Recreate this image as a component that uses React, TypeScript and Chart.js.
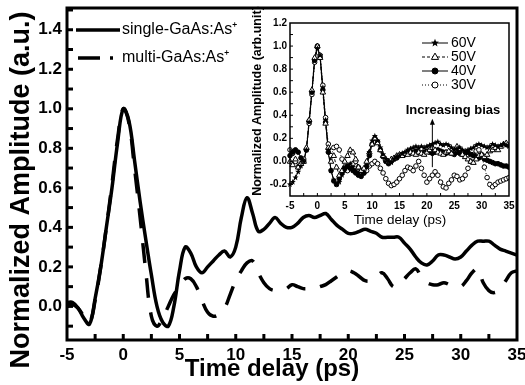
import React, { useEffect, useRef } from 'react';
import { Chart, registerables } from 'chart.js';

Chart.register(...registerables);

// ---------- data ----------
const timePs = [
  -5, -4.5, -4, -3.5, -3, -2.5, -2, -1.5, -1, -0.5, 0, 0.5, 1, 1.5, 2, 2.5, 3, 3.5, 4, 4.5,
  5, 5.5, 6, 6.5, 7, 7.5, 8, 8.5, 9, 9.5, 10, 10.5, 11, 11.5, 12, 12.5, 13, 13.5, 14, 14.5,
  15, 15.5, 16, 16.5, 17, 17.5, 18, 18.5, 19, 19.5, 20, 20.5, 21, 21.5, 22, 22.5, 23, 23.5, 24, 24.5,
  25, 25.5, 26, 26.5, 27, 27.5, 28, 28.5, 29, 29.5, 30, 30.5, 31, 31.5, 32, 32.5, 33, 33.5, 34, 34.5, 35,
];

const singleGaAs = [
  0.02, 0.02, -0.01, -0.06, -0.09, 0.04, 0.2, 0.4, 0.6, 0.83, 1.0, 0.94, 0.74, 0.53, 0.34, 0.16, 0.0, -0.08, -0.1, 0.0,
  0.18, 0.3, 0.27, 0.2, 0.17, 0.2, 0.23, 0.26, 0.28, 0.25, 0.3, 0.45, 0.55, 0.47, 0.38, 0.39, 0.42, 0.45, 0.42, 0.4,
  0.4, 0.42, 0.45, 0.46, 0.45, 0.46, 0.47, 0.44, 0.41, 0.39, 0.37, 0.37, 0.38, 0.39, 0.38, 0.37, 0.35, 0.35, 0.35, 0.35,
  0.32, 0.29, 0.25, 0.22, 0.21, 0.23, 0.26, 0.26, 0.25, 0.24, 0.25, 0.28, 0.31, 0.33, 0.33, 0.33, 0.31, 0.29, 0.28, 0.27, 0.26,
];

const multiGaAs = [
  0.0, 0.01, -0.01, -0.05, -0.08, 0.03, 0.2, 0.4, 0.62, 0.85, 1.0, 0.93, 0.7, 0.45, 0.18, -0.05, -0.1, -0.06, 0.0, 0.06,
  0.1, 0.14, 0.14, 0.1, 0.03, -0.03, -0.05, -0.04, -0.01, 0.06, 0.13, 0.18, 0.22, 0.23, 0.17, 0.12, 0.09, 0.08, 0.08, 0.09,
  0.11, 0.1, 0.09, 0.09, 0.09, 0.1, 0.11, 0.13, 0.15, 0.17, 0.18, 0.17, 0.15, 0.13, 0.13, 0.15, 0.17, 0.14, 0.1, 0.11,
  0.14, 0.17, 0.19, 0.15, 0.12, 0.11, 0.11, 0.12, 0.11, 0.1, 0.1, 0.13, 0.17, 0.19, 0.12, 0.08, 0.07, 0.09, 0.13, 0.17, 0.18,
];

const bias60V = [
  -0.2, -0.18, -0.14, -0.09, -0.04, 0.0, 0.1, 0.34, 0.6, 0.87, 0.98, 0.92, 0.64, 0.36, 0.1, -0.08, -0.16, -0.2, -0.18, -0.12,
  -0.08, -0.05, -0.02, -0.05, -0.08, -0.1, -0.12, -0.1, -0.05, 0.08, 0.18, 0.22, 0.18, 0.12, 0.06, 0.02, 0.0, -0.01, 0.02, 0.04,
  0.05, 0.07, 0.08, 0.1, 0.11, 0.12, 0.13, 0.12, 0.13, 0.12, 0.13, 0.14, 0.15, 0.16, 0.17, 0.15, 0.14, 0.15, 0.14, 0.12,
  0.1, 0.11, 0.12, 0.1, 0.09, 0.1, 0.11, 0.12, 0.14, 0.15, 0.14, 0.13, 0.12, 0.13, 0.15, 0.14, 0.13, 0.14, 0.15, 0.14, 0.13,
];

const bias50V = [
  0.0, -0.03, 0.02, -0.05, -0.02, 0.0, 0.12, 0.36, 0.62, 0.9, 1.0, 0.9, 0.6, 0.33, 0.12, 0.0, 0.05, -0.05, -0.12, -0.08,
  0.0, 0.05, 0.1, 0.08, 0.02, -0.05, -0.08, -0.06, 0.0, 0.08, 0.15, 0.2, 0.16, 0.1, 0.05, 0.02, 0.0, 0.02, 0.03, 0.05,
  0.06, 0.05, 0.07, 0.06, 0.08, 0.07, 0.06, 0.08, 0.07, 0.06, 0.08, 0.1, 0.12, 0.1, 0.08, 0.07, 0.06, 0.08, 0.09, 0.07,
  0.1, 0.13, 0.11, 0.06, 0.04, 0.02, 0.0, -0.01, 0.02, 0.05, 0.06, 0.04, 0.06, 0.09, 0.1, 0.12, 0.1, 0.13, 0.15, 0.16, 0.14,
];

const bias40V = [
  0.05, 0.08, 0.1, 0.08, 0.03, 0.0, 0.1, 0.35, 0.6, 0.88, 1.0, 0.9, 0.62, 0.34, 0.08, -0.08, -0.17, -0.2, -0.15, -0.1,
  -0.06, -0.04, -0.06, -0.08, -0.1, -0.12, -0.13, -0.1, -0.04, 0.05, 0.15, 0.2, 0.17, 0.1, 0.04, 0.0, -0.02, 0.0, 0.02, 0.03,
  0.05, 0.06, 0.06, 0.08, 0.07, 0.08, 0.09, 0.08, 0.07, 0.08, 0.09, 0.08, 0.07, 0.08, 0.1, 0.09, 0.08, 0.07, 0.08, 0.07,
  0.06, 0.08, 0.07, 0.06, 0.07, 0.08, 0.06, 0.05, 0.04, 0.03, 0.04, 0.02, 0.01, 0.0, -0.01, -0.02, -0.02, -0.03, -0.04, -0.04, -0.05,
];

const bias30V = [
  0.1, 0.07, 0.0, -0.05, -0.02, 0.02, 0.1, 0.33, 0.58, 0.86, 0.99, 0.92, 0.66, 0.38, 0.15, 0.05, 0.12, 0.13, 0.1, 0.02,
  -0.05, -0.08, -0.05, -0.02, 0.0, -0.05, -0.1, -0.1, -0.08, -0.04, -0.02, 0.0, -0.02, -0.06, -0.1, -0.15, -0.19, -0.21, -0.2, -0.18,
  -0.15, -0.12, -0.08, -0.05, -0.06, -0.08, -0.04, 0.0, -0.06, -0.12, -0.18, -0.15, -0.12, -0.09, -0.12, -0.18, -0.22, -0.23, -0.19, -0.16,
  -0.12, -0.13, -0.16, -0.15, -0.12, -0.06, 0.0, 0.06, 0.09, 0.1, 0.06, -0.05, -0.14, -0.2, -0.22, -0.2, -0.18, -0.17, -0.16, -0.15, -0.14,
];

const mainXTicks = [-5, 0, 5, 10, 15, 20, 25, 30, 35];
const mainYTicks = [0.0, 0.2, 0.4, 0.6, 0.8, 1.0, 1.2, 1.4];
const insetXTicks = [-5, 0, 5, 10, 15, 20, 25, 30, 35];
const insetYTicks = [-0.2, 0.0, 0.2, 0.4, 0.6, 0.8, 1.0, 1.2];

const mainLegend = ['single-GaAs:As\u207A', 'multi-GaAs:As\u207A'];
const insetLegend = ['60V', '50V', '40V', '30V'];
const arrowAt = { t: 21, from: -0.05, to: 0.37 };

const FONT = '"Liberation Sans", Arial, sans-serif';

const toXY = (arr: number[]) => timePs.map((t, i) => ({ x: t, y: arr[i] }));

function drawMarker(ctx: CanvasRenderingContext2D, style: string, x: number, y: number, r: number) {
  ctx.save();
  ctx.setLineDash([]);
  ctx.lineWidth = 1;
  ctx.strokeStyle = '#000';
  if (style === 'star') {
    ctx.fillStyle = '#000';
    ctx.beginPath();
    for (let k = 0; k < 10; k++) {
      const a = -Math.PI / 2 + (k * Math.PI) / 5;
      const rr = k % 2 === 0 ? r * 1.4 : r * 0.6;
      const px = x + rr * Math.cos(a);
      const py = y + rr * Math.sin(a);
      if (k === 0) ctx.moveTo(px, py);
      else ctx.lineTo(px, py);
    }
    ctx.closePath();
    ctx.fill();
  } else if (style === 'triangle') {
    ctx.fillStyle = '#fff';
    ctx.beginPath();
    ctx.moveTo(x, y - r * 1.3);
    ctx.lineTo(x + r * 1.2, y + r * 0.8);
    ctx.lineTo(x - r * 1.2, y + r * 0.8);
    ctx.closePath();
    ctx.fill();
    ctx.stroke();
  } else {
    ctx.fillStyle = style === 'filled' ? '#000' : '#fff';
    ctx.beginPath();
    ctx.arc(x, y, r, 0, Math.PI * 2);
    ctx.fill();
    ctx.stroke();
  }
  ctx.restore();
}

const mainDecor = {
  id: 'mainDecor',
  afterDraw(chart: any) {
    const { ctx, chartArea } = chart;
    const xs = chart.scales.x;
    const ys = chart.scales.y;
    ctx.save();
    ctx.strokeStyle = '#000';
    ctx.fillStyle = '#000';
    // inward ticks
    ctx.lineWidth = 3;
    ctx.lineCap = 'butt';
    for (let t = -2.5; t < 35; t += 2.5) {
      const px = xs.getPixelForValue(t);
      ctx.beginPath();
      ctx.moveTo(px, chartArea.bottom);
      ctx.lineTo(px, chartArea.bottom - 6);
      ctx.stroke();
    }
    for (let k = -1; k <= 15; k++) {
      const py = ys.getPixelForValue(k / 10);
      ctx.beginPath();
      ctx.moveTo(chartArea.left, py);
      ctx.lineTo(chartArea.left + 6, py);
      ctx.stroke();
    }
    // frame
    ctx.lineWidth = 3;
    ctx.strokeRect(chartArea.left, chartArea.top, chartArea.right - chartArea.left, chartArea.bottom - chartArea.top);

    // axis titles
    ctx.font = `bold 27px ${FONT}`;
    ctx.textAlign = 'center';
    ctx.textBaseline = 'middle';
    ctx.save();
    ctx.translate(22, 190);
    ctx.rotate(-Math.PI / 2);
    ctx.fillText('Normalized Amplitude (a.u.)', 0, 0);
    ctx.restore();
    ctx.font = `bold 24px ${FONT}`;
    ctx.fillText('Time delay (ps)', 272, 369);

    // legend
    ctx.lineWidth = 3.5;
    ctx.beginPath();
    ctx.moveTo(76, 30);
    ctx.lineTo(120, 30);
    ctx.stroke();
    ctx.setLineDash([22, 10]);
    ctx.beginPath();
    ctx.moveTo(78, 58);
    ctx.lineTo(113, 58);
    ctx.stroke();
    ctx.setLineDash([]);
    ctx.font = `16px ${FONT}`;
    ctx.textAlign = 'left';
    ctx.fillText(mainLegend[0], 122, 30);
    ctx.fillText(mainLegend[1], 122, 58);
    ctx.restore();
  },
};

const insetStyles = ['star', 'triangle', 'filled', 'open'];
const insetDashes = [[], [3, 2], [], [1, 2]];

const insetDecor = {
  id: 'insetDecor',
  afterDraw(chart: any) {
    const { ctx, chartArea } = chart;
    const xs = chart.scales.x;
    const ys = chart.scales.y;
    ctx.save();
    ctx.strokeStyle = '#000';
    ctx.fillStyle = '#000';
    ctx.lineWidth = 1;
    for (let t = -2.5; t < 35; t += 2.5) {
      const px = xs.getPixelForValue(t);
      ctx.beginPath();
      ctx.moveTo(px, chartArea.bottom);
      ctx.lineTo(px, chartArea.bottom - 3);
      ctx.stroke();
    }
    for (let k = -2; k <= 11; k++) {
      const py = ys.getPixelForValue(k / 10);
      ctx.beginPath();
      ctx.moveTo(chartArea.left, py);
      ctx.lineTo(chartArea.left + 3, py);
      ctx.stroke();
    }
    ctx.lineWidth = 1.5;
    ctx.strokeRect(chartArea.left, chartArea.top, chartArea.right - chartArea.left, chartArea.bottom - chartArea.top);

    // titles
    ctx.textAlign = 'center';
    ctx.textBaseline = 'middle';
    ctx.font = `bold 12.5px ${FONT}`;
    ctx.save();
    ctx.translate(258, 101);
    ctx.rotate(-Math.PI / 2);
    ctx.fillText('Normalized Amplitude (arb.unit)', 0, 0);
    ctx.restore();
    ctx.font = `13.5px ${FONT}`;
    ctx.fillText('Time delay (ps)', 400, 220);

    // legend
    ctx.textAlign = 'left';
    ctx.font = `14px ${FONT}`;
    insetLegend.forEach((label, i) => {
      const y = 43 + i * 14;
      ctx.lineWidth = 1;
      ctx.setLineDash(insetDashes[i]);
      ctx.beginPath();
      ctx.moveTo(422, y);
      ctx.lineTo(448, y);
      ctx.stroke();
      ctx.setLineDash([]);
      drawMarker(ctx, insetStyles[i], 435, y, 3);
      ctx.fillStyle = '#000';
      ctx.fillText(label, 451, y + 0.5);
    });

    // annotation
    ctx.font = `bold 13px ${FONT}`;
    ctx.textAlign = 'center';
    ctx.fillText('Increasing bias', 453, 110);
    const ax = xs.getPixelForValue(arrowAt.t);
    const y1 = ys.getPixelForValue(arrowAt.from);
    const y2 = ys.getPixelForValue(arrowAt.to);
    ctx.lineWidth = 1;
    ctx.beginPath();
    ctx.moveTo(ax, y1);
    ctx.lineTo(ax, y2 + 4);
    ctx.stroke();
    ctx.beginPath();
    ctx.moveTo(ax, y2);
    ctx.lineTo(ax - 2.5, y2 + 6);
    ctx.lineTo(ax + 2.5, y2 + 6);
    ctx.closePath();
    ctx.fill();
    ctx.restore();
  },
};

const markerPlugin = {
  id: 'insetMarkers',
  afterDatasetsDraw(chart: any) {
    const { ctx, chartArea } = chart;
    ctx.save();
    ctx.beginPath();
    ctx.rect(chartArea.left - 3, chartArea.top, chartArea.right - chartArea.left + 3, chartArea.bottom - chartArea.top);
    ctx.clip();
    for (let d = chart.data.datasets.length - 1; d >= 0; d--) {
      const meta = chart.getDatasetMeta(d);
      meta.data.forEach((pt: any) => {
        drawMarker(ctx, insetStyles[d], pt.x, pt.y, 2.3);
      });
    }
    ctx.restore();
  },
};

function tickFont(size: number) {
  return { family: FONT, size, weight: 'bold' as const };
}

export default function App() {
  const mainRef = useRef<HTMLCanvasElement>(null);
  const insetRef = useRef<HTMLCanvasElement>(null);

  useEffect(() => {
    const main = new Chart(mainRef.current as HTMLCanvasElement, {
      type: 'line',
      data: {
        datasets: [
          {
            label: mainLegend[0],
            data: toXY(singleGaAs),
            borderColor: '#000',
            borderWidth: 3.5,
            pointRadius: 0,
            tension: 0.4,
            fill: false,
          },
          {
            label: mainLegend[1],
            data: toXY(multiGaAs),
            borderColor: '#000',
            borderWidth: 3.5,
            borderDash: [20, 15],
            pointRadius: 0,
            tension: 0.4,
            fill: false,
          },
        ],
      },
      options: {
        responsive: false,
        animation: false,
        layout: { padding: { left: 0, top: 8, right: 8, bottom: 0 } },
        plugins: { legend: { display: false }, tooltip: { enabled: false } },
        scales: {
          x: {
            type: 'linear',
            min: -5,
            max: 35,
            afterBuildTicks: (s: any) => {
              s.ticks = mainXTicks.map((v) => ({ value: v }));
            },
            afterFit: (s: any) => {
              s.height = 45;
              s.paddingLeft = 0;
              s.paddingRight = 0;
            },
            grid: { display: false, drawTicks: false },
            border: { display: false },
            ticks: { font: tickFont(17), color: '#000', padding: 5, maxRotation: 0, autoSkip: false },
          },
          y: {
            type: 'linear',
            min: -0.17,
            max: 1.51,
            afterBuildTicks: (s: any) => {
              s.ticks = mainYTicks.map((v) => ({ value: v }));
            },
            afterFit: (s: any) => {
              s.width = 67;
              s.paddingTop = 0;
              s.paddingBottom = 0;
            },
            grid: { display: false, drawTicks: false },
            border: { display: false },
            ticks: {
              font: tickFont(17),
              color: '#000',
              padding: 5,
              autoSkip: false,
              callback: (v: any) => Number(v).toFixed(1),
            },
          },
        },
      },
      plugins: [mainDecor],
    } as any);

    const insetDatasets = [bias60V, bias50V, bias40V, bias30V].map((arr, i) => ({
      label: insetLegend[i],
      data: toXY(arr),
      borderColor: '#000',
      borderWidth: 1,
      borderDash: insetDashes[i],
      pointRadius: 0,
      tension: 0,
      fill: false,
    }));

    const inset = new Chart(insetRef.current as HTMLCanvasElement, {
      type: 'line',
      data: { datasets: insetDatasets },
      options: {
        responsive: false,
        animation: false,
        layout: { padding: { left: 262, top: 23, right: 16, bottom: 175 } },
        plugins: { legend: { display: false }, tooltip: { enabled: false } },
        scales: {
          x: {
            type: 'linear',
            min: -5,
            max: 35,
            afterBuildTicks: (s: any) => {
              s.ticks = insetXTicks.map((v) => ({ value: v }));
            },
            afterFit: (s: any) => {
              s.height = 14;
              s.paddingLeft = 0;
              s.paddingRight = 0;
            },
            grid: { display: false, drawTicks: false },
            border: { display: false },
            ticks: { font: tickFont(10), color: '#000', padding: 4, maxRotation: 0, autoSkip: false },
          },
          y: {
            type: 'linear',
            min: -0.3,
            max: 1.2,
            afterBuildTicks: (s: any) => {
              s.ticks = insetYTicks.map((v) => ({ value: v }));
            },
            afterFit: (s: any) => {
              s.width = 28;
              s.paddingTop = 0;
              s.paddingBottom = 0;
            },
            grid: { display: false, drawTicks: false },
            border: { display: false },
            ticks: {
              font: tickFont(10),
              color: '#000',
              padding: 3,
              autoSkip: false,
              callback: (v: any) => Number(v).toFixed(1),
            },
          },
        },
      },
      plugins: [markerPlugin, insetDecor],
    } as any);

    return () => {
      main.destroy();
      inset.destroy();
    };
  }, []);

  return (
    <div style={{ position: 'fixed', left: 0, top: 0, width: 525, height: 385, background: '#fff' }}>
      <canvas ref={mainRef} width={525} height={385} style={{ position: 'absolute', left: 0, top: 0 }} />
      <canvas ref={insetRef} width={525} height={385} style={{ position: 'absolute', left: 0, top: 0 }} />
    </div>
  );
}
